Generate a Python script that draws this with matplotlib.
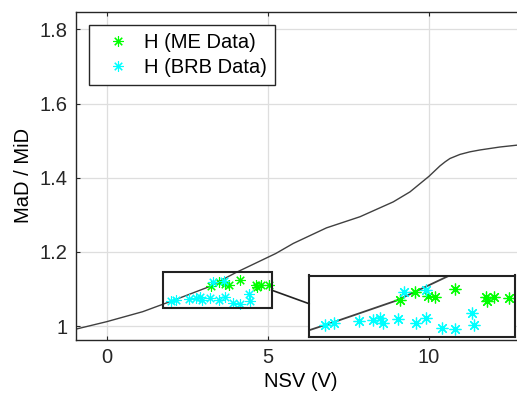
import matplotlib
matplotlib.use("Agg")
import matplotlib.pyplot as plt
from matplotlib.patches import Rectangle, ConnectionPatch

plt.rcParams['font.family'] = ['Liberation Sans', 'DejaVu Sans']

# Curve data (MaD/MiD vs NSV)
curve_x = [-0.95, 0.0, 1.12, 2.15, 3.17, 4.0, 5.25, 5.79, 6.82, 7.86, 8.89, 9.41,
           10.0, 10.34, 10.5, 10.65, 10.96, 11.27, 11.58, 12.2, 12.73, 13.0]
curve_y = [0.992, 1.012, 1.039, 1.072, 1.106, 1.144, 1.196, 1.223, 1.265, 1.295,
           1.335, 1.362, 1.404, 1.432, 1.443, 1.452, 1.463, 1.470, 1.475, 1.483, 1.488, 1.49]

# ME data (green)
me_x = [3.230, 3.477, 3.685, 3.805, 4.134, 4.643, 4.655, 4.775, 5.026]
me_y = [1.107, 1.120, 1.113, 1.111, 1.124, 1.111, 1.105, 1.112, 1.110]

# BRB data (cyan)
brb_x = [1.998, 2.146, 2.557, 2.782, 2.902, 2.946, 3.202, 3.493, 3.658, 3.916,
         4.134, 4.418, 4.446, 3.296, 3.653]
brb_y = [1.067, 1.070, 1.074, 1.075, 1.079, 1.071, 1.077, 1.071, 1.079, 1.063,
         1.061, 1.087, 1.067, 1.119, 1.123]

xticks = [0, 5, 10]
yticks = [1.0, 1.2, 1.4, 1.6, 1.8]
ytick_labels = ['1', '1.2', '1.4', '1.6', '1.8']

zoom_x = (1.74, 5.12)
zoom_y = (1.048, 1.146)

W, H = 517, 401
fig = plt.figure(figsize=(W / 100, H / 100), dpi=100)
axc = '#262626'
fs = 14.5

ax = fig.add_axes([76 / W, (H - 339.5) / H, 449.7 / W, 327.5 / H])
ax.set_xlim(-0.95, 13.0)
ax.set_ylim(0.964, 1.847)
ax.grid(True, color='#dedede', linewidth=0.9)
ax.set_axisbelow(True)

ax.plot(curve_x, curve_y, color='#404040', linewidth=1.0, zorder=2)
star = (8, 2, 0)
ax.plot(me_x, me_y, linestyle='none', marker=star, markersize=7.5, markeredgewidth=0.8,
        color=(0, 1, 0), label='H (ME Data)', zorder=3)
ax.plot(brb_x, brb_y, linestyle='none', marker=star, markersize=7.5, markeredgewidth=0.8,
        color=(0, 1, 1), label='H (BRB Data)', zorder=3)

ax.set_xticks(xticks)
ax.set_yticks(yticks)
ax.set_yticklabels(ytick_labels)
ax.tick_params(direction='in', top=True, right=True, length=3, width=0.8,
               colors=axc, labelsize=fs, pad=6)
for s in ax.spines.values():
    s.set_color(axc)
    s.set_linewidth(1.0)
ax.set_xlabel('NSV (V)', fontsize=fs, color='black', labelpad=4)
ax.set_ylabel('MaD / MiD', fontsize=fs, color='black', labelpad=5)

# zoom box
rect = Rectangle((zoom_x[0], zoom_y[0]), zoom_x[1] - zoom_x[0], zoom_y[1] - zoom_y[0],
                 fill=False, edgecolor='#222222', linewidth=1.5, zorder=4)
ax.add_patch(rect)

leg = ax.legend(loc='upper left', bbox_to_anchor=(0.0296, 0.960), fontsize=fs,
                numpoints=1, handlelength=2.0, handletextpad=0.3, borderpad=0.4,
                labelspacing=0.3, fancybox=False, framealpha=1, borderaxespad=0)
leg.get_frame().set_edgecolor('#262626')
leg.get_frame().set_linewidth(1.0)

# inset
ins = fig.add_axes([309.3 / W, (H - 337) / H, 205.7 / W, 61.5 / H])
ins.set_xlim(*zoom_x)
ins.set_ylim(*zoom_y)
ins.plot(curve_x, curve_y, color='#404040', linewidth=1.3)
ins.plot(me_x, me_y, linestyle='none', marker=star, markersize=8.5, markeredgewidth=0.9,
         color=(0, 1, 0))
ins.plot(brb_x, brb_y, linestyle='none', marker=star, markersize=8.5, markeredgewidth=0.9,
         color=(0, 1, 1))
ins.set_xticks([])
ins.set_yticks([])
for s in ins.spines.values():
    s.set_color('#222222')
    s.set_linewidth(1.5)

con = ConnectionPatch(xyA=(zoom_x[1], (zoom_y[0] + zoom_y[1]) / 2), coordsA=ax.transData,
                      xyB=(0, 0.54), coordsB=ins.transAxes, color='#222222', linewidth=1.2)
fig.add_artist(con)

fig.savefig('out.png', dpi=100)
